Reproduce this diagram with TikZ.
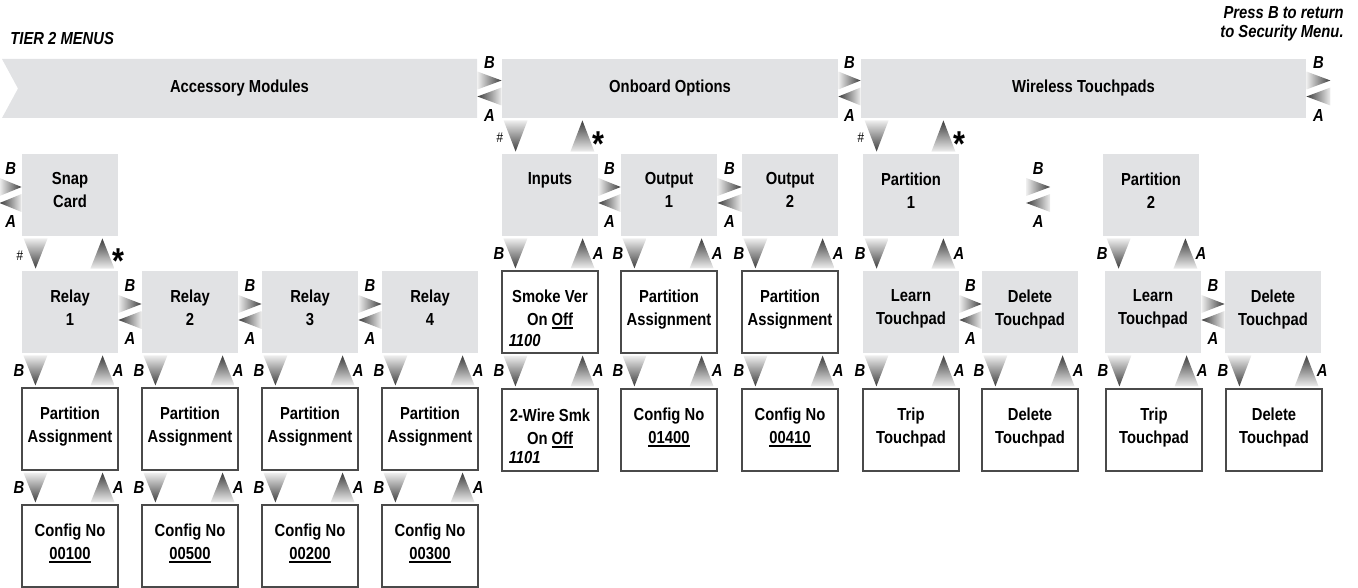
\documentclass[tikz,border=0pt]{standalone}
\usepackage{fontspec}
\setmainfont{Liberation Sans}[FakeStretch=0.85]
\usetikzlibrary{calc}

\definecolor{menugray}{HTML}{E1E2E4}
\definecolor{tipdark}{HTML}{3C3C3C}
\definecolor{taillight}{HTML}{EEEEEE}
\definecolor{edgegray}{HTML}{4A4A4A}

\newcommand{\boxfont}{\fontsize{8.7}{11.5}\selectfont}
\newcommand{\ulnum}[1]{\setbox0=\hbox{#1}\rlap{\rule[-1.9pt]{\wd0}{0.9pt}}\box0}

% B/A pair between #1 (left end) and #2 (right end)
\newcommand{\hpair}[3]{%
  \shade[left color=taillight, right color=tipdark]
    ($(#1)+(0,-17)$) -- ($(#2)+(0,-8)$) -- ($(#1)+(0,1)$) -- cycle;
  \shade[left color=tipdark, right color=taillight]
    ($(#2)+(0,-1)$) -- ($(#1)+(0,8)$) -- ($(#2)+(0,17)$) -- cycle;
  \node[lbl] (#3-b) at ($(#1)!0.5!(#2)+(0,-26)$) {B};
  \node[lbl] (#3-a) at ($(#1)!0.5!(#2)+(0,27)$) {A};
}
% down/up pair from menu #1 to menu #2 below it
\newcommand{\vtris}[2]{%
  \shade[top color=taillight, bottom color=tipdark]
    ($(#2.north west |- #1.south)+(2,2)$) -- ($(#2.north west |- #1.south)+(26,2)$)
    -- ($(#2.north west)+(14,-2)$) -- cycle;
  \shade[top color=tipdark, bottom color=taillight]
    ($(#2.north east |- #1.south)+(-16,2)$) -- ($(#2.north east)+(-4,-2)$)
    -- ($(#2.north east)+(-28,-2)$) -- cycle;
}
\newcommand{\vpair}[2]{%
  \vtris{#1}{#2}
  \node[lbl] (#2-b) at ($(#2.north west)!0.5!(#2.north west |- #1.south)+(-2.5,0)$) {B};
  \node[lbl] (#2-a) at ($(#2.north east)!0.5!(#2.north east |- #1.south)+(-0.5,0)$) {A};
}
\newcommand{\vpairtop}[2]{%
  \vtris{#1}{#2}
  \node[hashlbl] (#2-h) at ($(#2.north west)!0.5!(#2.north west |- #1.south)+(-2,2)$) {\#};
  \node[starlbl] (#2-s) at ($(#2.north east)!0.5!(#2.north east |- #1.south)+(0,0)$) {*};
}

\begin{document}
\begin{tikzpicture}[x=0.5pt, y=-0.5pt,
  menubar/.style={fill=menugray, inner sep=0pt, minimum height=29.5pt,
                  font=\bfseries\boxfont},
  gbox/.style={fill=menugray, inner sep=0pt, minimum width=48pt, minimum height=41pt},
  wbox/.style={draw=edgegray, line width=0.6pt, fill=white, inner sep=0pt,
               minimum width=48pt, minimum height=41pt},
  btxt/.style={anchor=north, align=center, inner sep=0pt, font=\bfseries\boxfont},
  ntxt/.style={anchor=west, inner sep=0pt, font=\bfseries\itshape\boxfont},
  lbl/.style={inner sep=0pt, font=\bfseries\itshape\boxfont},
  hashlbl/.style={inner sep=0pt, font=\itshape\fontsize{7}{7}\selectfont},
  starlbl/.style={inner sep=0pt, yshift=-3.9pt, font=\bfseries\fontsize{18}{18}\selectfont},
  ttl/.style={inner sep=0pt, font=\bfseries\itshape\boxfont}
]
\useasboundingbox (0,0) rectangle (1358,588);

% headings
\node[ttl, anchor=west] (tier) at (10,39) {TIER 2 MENUS};
\node[ttl, anchor=east, align=right, font=\bfseries\itshape\fontsize{8.7}{9.5}\selectfont]
  (press) at (1344,24) {Press B to return\\to Security Menu.};

% tier 2 bars (first one notched on the left)
\fill[menugray] (2,59) -- (477,59) -- (477,118) -- (2,118) -- (18,88.5) -- cycle;
\node[menubar, fill=none, minimum width=237.5pt] (acc) at (239.5,88.5) {Accessory Modules};
\node[menubar, minimum width=168pt]   (onb) at (670,88.5)    {Onboard Options};
\node[menubar, minimum width=222.5pt] (wtp) at (1083.5,88.5) {Wireless Touchpads};

% accessory modules
\node[gbox] (snap)   at (70,195)  {};
\node[gbox] (relay1) at (70,312)  {};
\node[gbox] (relay2) at (190,312) {};
\node[gbox] (relay3) at (310,312) {};
\node[gbox] (relay4) at (430,312) {};
\node[wbox] (pa1)    at (70,429)  {};
\node[wbox] (pa2)    at (190,429) {};
\node[wbox] (pa3)    at (310,429) {};
\node[wbox] (pa4)    at (430,429) {};
\node[wbox] (cfg1)   at (70,546)  {};
\node[wbox] (cfg2)   at (190,546) {};
\node[wbox] (cfg3)   at (310,546) {};
\node[wbox] (cfg4)   at (430,546) {};
\node[btxt] (snap-t)   at ($(snap.north)+(0,18.7)$)   {Snap\\Card};
\node[btxt] (relay1-t) at ($(relay1.north)+(0,18.7)$) {Relay\\1};
\node[btxt] (relay2-t) at ($(relay2.north)+(0,18.7)$) {Relay\\2};
\node[btxt] (relay3-t) at ($(relay3.north)+(0,18.7)$) {Relay\\3};
\node[btxt] (relay4-t) at ($(relay4.north)+(0,18.7)$) {Relay\\4};
\node[btxt] (pa1-t)    at ($(pa1.north)+(0,18.7)$)    {Partition\\Assignment};
\node[btxt] (pa2-t)    at ($(pa2.north)+(0,18.7)$)    {Partition\\Assignment};
\node[btxt] (pa3-t)    at ($(pa3.north)+(0,18.7)$)    {Partition\\Assignment};
\node[btxt] (pa4-t)    at ($(pa4.north)+(0,18.7)$)    {Partition\\Assignment};
\node[btxt] (cfg1-t)   at ($(cfg1.north)+(0,18.7)$)   {Config No\\\ulnum{00100}};
\node[btxt] (cfg2-t)   at ($(cfg2.north)+(0,18.7)$)   {Config No\\\ulnum{00500}};
\node[btxt] (cfg3-t)   at ($(cfg3.north)+(0,18.7)$)   {Config No\\\ulnum{00200}};
\node[btxt] (cfg4-t)   at ($(cfg4.north)+(0,18.7)$)   {Config No\\\ulnum{00300}};

% onboard options
\node[gbox] (inputs)  at (550,195) {};
\node[gbox] (out1)    at (669,195) {};
\node[gbox] (out2)    at (790,195) {};
\node[wbox] (smoke)   at (550,312) {};
\node[wbox] (paout1)  at (669,312) {};
\node[wbox] (paout2)  at (790,312) {};
\node[wbox] (wire)    at (550,430) {};
\node[wbox] (cfgout1) at (669,430) {};
\node[wbox] (cfgout2) at (790,430) {};
\node[btxt] (inputs-t)  at ($(inputs.north)+(0,18.7)$)  {Inputs};
\node[btxt] (out1-t)    at ($(out1.north)+(0,18.7)$)    {Output\\1};
\node[btxt] (out2-t)    at ($(out2.north)+(0,18.7)$)    {Output\\2};
\node[btxt] (smoke-t)   at ($(smoke.north)+(0,18.7)$)   {Smoke Ver\\On \ulnum{Off}};
\node[ntxt] (smoke-n)   at ($(smoke.north west)+(7,70)$) {1100};
\node[btxt] (paout1-t)  at ($(paout1.north)+(0,18.7)$)  {Partition\\Assignment};
\node[btxt] (paout2-t)  at ($(paout2.north)+(0,18.7)$)  {Partition\\Assignment};
\node[btxt] (wire-t)    at ($(wire.north)+(0,20)$)      {2-Wire Smk\\On \ulnum{Off}};
\node[ntxt] (wire-n)    at ($(wire.north west)+(7,69)$) {1101};
\node[btxt] (cfgout1-t) at ($(cfgout1.north)+(0,18.7)$) {Config No\\\ulnum{01400}};
\node[btxt] (cfgout2-t) at ($(cfgout2.north)+(0,18.7)$) {Config No\\\ulnum{00410}};

% wireless touchpads
\node[gbox] (part1)  at (911,195)  {};
\node[gbox] (part2)  at (1151,195) {};
\node[gbox] (learn1) at (911,312)  {};
\node[gbox] (del1)   at (1030,312) {};
\node[gbox] (learn2) at (1153,312) {};
\node[gbox] (del2)   at (1273,312) {};
\node[wbox] (trip1)  at (911,430)  {};
\node[wbox] (delx1)  at (1030,430) {};
\node[wbox] (trip2)  at (1154,430) {};
\node[wbox] (delx2)  at (1274,430) {};
\node[btxt] (part1-t)  at ($(part1.north)+(0,18.7)$)  {Partition\\1};
\node[btxt] (part2-t)  at ($(part2.north)+(0,18.7)$)  {Partition\\2};
\node[btxt] (learn1-t) at ($(learn1.north)+(0,18.7)$) {Learn\\Touchpad};
\node[btxt] (del1-t)   at ($(del1.north)+(0,18.7)$)   {Delete\\Touchpad};
\node[btxt] (learn2-t) at ($(learn2.north)+(0,18.7)$) {Learn\\Touchpad};
\node[btxt] (del2-t)   at ($(del2.north)+(0,18.7)$)   {Delete\\Touchpad};
\node[btxt] (trip1-t)  at ($(trip1.north)+(0,18.7)$)  {Trip\\Touchpad};
\node[btxt] (delx1-t)  at ($(delx1.north)+(0,18.7)$)  {Delete\\Touchpad};
\node[btxt] (trip2-t)  at ($(trip2.north)+(0,18.7)$)  {Trip\\Touchpad};
\node[btxt] (delx2-t)  at ($(delx2.north)+(0,18.7)$)  {Delete\\Touchpad};

% free ends of the side pairs
\coordinate (wtp-out) at ($(wtp.east)+(24,0)$);
\coordinate (snap-in) at ($(snap.west)+(-22,0)$);
\coordinate (pp-l) at ($(part1.east)!0.55!(part2.west)+(-12,0)$);
\coordinate (pp-r) at ($(part1.east)!0.55!(part2.west)+(12,0)$);

% side pairs
\hpair{acc.east}{onb.west}{ao}
\hpair{onb.east}{wtp.west}{ow}
\hpair{wtp.east}{wtp-out}{wo}
\hpair{snap-in}{snap.west}{sn}
\hpair{relay1.east}{relay2.west}{r12}
\hpair{relay2.east}{relay3.west}{r23}
\hpair{relay3.east}{relay4.west}{r34}
\hpair{inputs.east}{out1.west}{io}
\hpair{out1.east}{out2.west}{oo}
\hpair{pp-l}{pp-r}{pp}
\hpair{learn1.east}{del1.west}{ld1}
\hpair{learn2.east}{del2.west}{ld2}

% down/up pairs
\vpairtop{snap}{relay1}
\vpairtop{onb}{inputs}
\vpairtop{wtp}{part1}
\vpair{relay1}{pa1}
\vpair{relay2}{pa2}
\vpair{relay3}{pa3}
\vpair{relay4}{pa4}
\vpair{pa1}{cfg1}
\vpair{pa2}{cfg2}
\vpair{pa3}{cfg3}
\vpair{pa4}{cfg4}
\vpair{inputs}{smoke}
\vpair{smoke}{wire}
\vpair{out1}{paout1}
\vpair{paout1}{cfgout1}
\vpair{out2}{paout2}
\vpair{paout2}{cfgout2}
\vpair{part1}{learn1}
\vpair{part2}{learn2}
\vpair{learn1}{trip1}
\vpair{del1}{delx1}
\vpair{learn2}{trip2}
\vpair{del2}{delx2}
\end{tikzpicture}
\end{document}
